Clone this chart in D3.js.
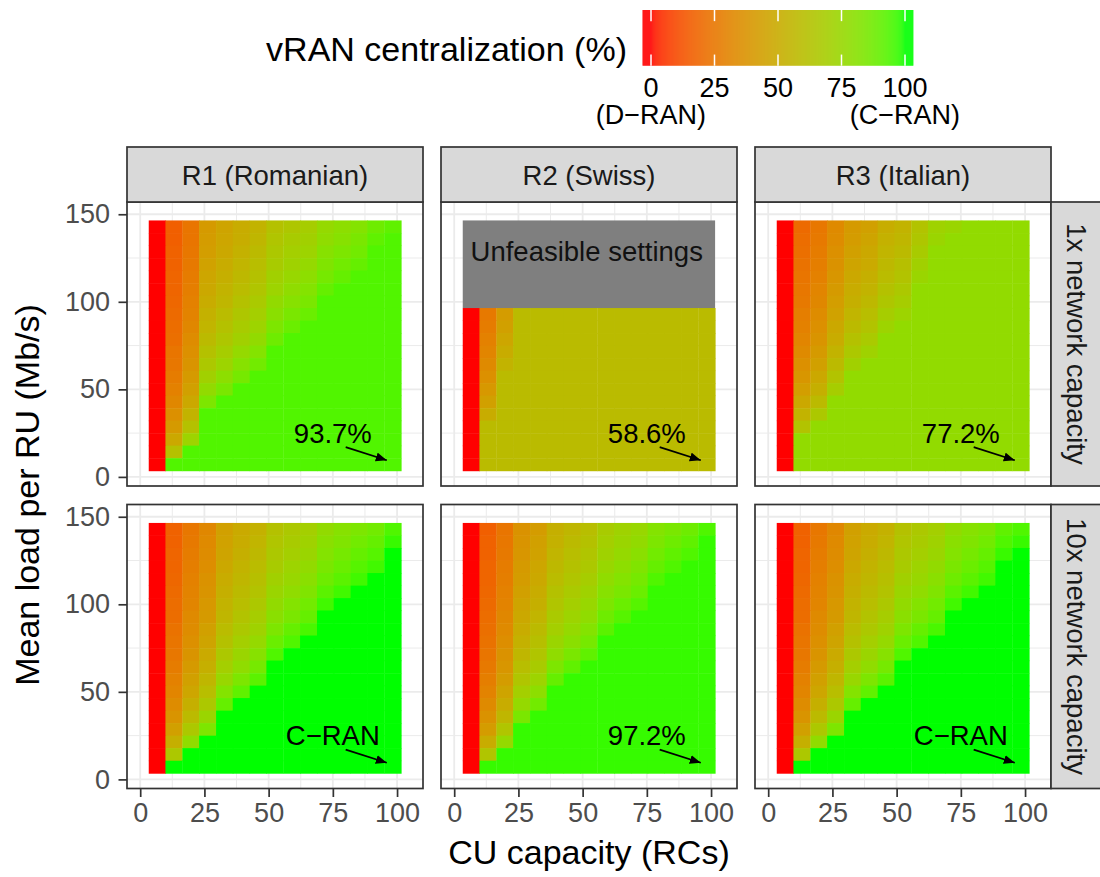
<!DOCTYPE html>
<html>
<head>
<meta charset="utf-8">
<script src="https://cdn.jsdelivr.net/npm/d3@7"></script>
<style>
  body { margin: 0; background: #fff; }
</style>
</head>
<body>
<div id="chart"></div>
<script>

// CU capacity (RCs) per tile column, mean load per RU (Mb/s) per tile row (top row first)
var cuCapacity = [6.6, 13.1, 19.7, 26.2, 32.8, 39.3, 45.9, 52.4, 59, 65.5, 72.1, 78.6, 85.2, 91.7, 98.3];
var meanLoad = [142.9, 135.7, 128.6, 121.4, 114.3, 107.1, 100, 92.9, 85.7, 78.6,
                71.4, 64.3, 57.1, 50, 42.9, 35.7, 28.6, 21.4, 14.3, 7.1];

var regions = ["R1 (Romanian)", "R2 (Swiss)", "R3 (Italian)"];
var capacities = ["1x network capacity", "10x network capacity"];
var panelNotes = [["93.7%", "58.6%", "77.2%"], ["C\u2212RAN", "97.2%", "C\u2212RAN"]];
var unfeasibleLabel = "Unfeasible settings";

var xTicks = [0, 25, 50, 75, 100];
var xMinor = [12.5, 37.5, 62.5, 87.5];
var yTicks = [0, 50, 100, 150];
var yMinor = [25, 75, 125];
var legendBreaks = [0, 25, 50, 75, 100];
var legendLabels = [["0", "(D\u2212RAN)"], ["25"], ["50"], ["75"], ["100", "(C\u2212RAN)"]];

// vRAN centralization (%), one row per mean load, one value per CU capacity; "" = unfeasible
var centralR1x1 = [
  "0 16 24 41 46 50 54 62 65 69 76 79 82 88 91",
  "0 16 24 42 47 51 56 64 68 71 78 81 85 91 93.7",
  "0 17 25 43 48 53 58 66 70 73 81 84 87 93.7 93.7",
  "0 17 26 45 50 55 60 68 72 76 83 87 90 93.7 93.7",
  "0 18 27 47 52 57 62 71 75 79 86 90 93.7 93.7 93.7",
  "0 18 28 48 54 59 64 73 78 82 90 93.7 93.7 93.7 93.7",
  "0 19 29 50 56 62 67 77 81 85 93.7 93.7 93.7 93.7 93.7",
  "0 20 30 53 59 65 70 80 85 89 93.7 93.7 93.7 93.7 93.7",
  "0 21 32 55 62 68 73 84 89 93.7 93.7 93.7 93.7 93.7 93.7",
  "0 22 34 58 65 71 77 88 93.7 93.7 93.7 93.7 93.7 93.7 93.7",
  "0 24 36 62 69 76 82 93.7 93.7 93.7 93.7 93.7 93.7 93.7 93.7",
  "0 25 38 66 73 81 87 93.7 93.7 93.7 93.7 93.7 93.7 93.7 93.7",
  "0 27 41 71 79 86 93.7 93.7 93.7 93.7 93.7 93.7 93.7 93.7 93.7",
  "0 29 44 77 85 93.7 93.7 93.7 93.7 93.7 93.7 93.7 93.7 93.7 93.7",
  "0 32 48 84 93.7 93.7 93.7 93.7 93.7 93.7 93.7 93.7 93.7 93.7 93.7",
  "0 36 54 93.7 93.7 93.7 93.7 93.7 93.7 93.7 93.7 93.7 93.7 93.7 93.7",
  "0 41 62 93.7 93.7 93.7 93.7 93.7 93.7 93.7 93.7 93.7 93.7 93.7 93.7",
  "0 48 73 93.7 93.7 93.7 93.7 93.7 93.7 93.7 93.7 93.7 93.7 93.7 93.7",
  "0 62 93.7 93.7 93.7 93.7 93.7 93.7 93.7 93.7 93.7 93.7 93.7 93.7 93.7",
  "0 93.7 93.7 93.7 93.7 93.7 93.7 93.7 93.7 93.7 93.7 93.7 93.7 93.7 93.7"
];

var centralR2x1 = [
  "", "", "", "", "", "", "",
  "0 26 42 58.6 58.6 58.6 58.6 58.6 58.6 58.6 58.6 58.6 58.6 58.6 58.6",
  "0 27 44 58.6 58.6 58.6 58.6 58.6 58.6 58.6 58.6 58.6 58.6 58.6 58.6",
  "0 29 47 58.6 58.6 58.6 58.6 58.6 58.6 58.6 58.6 58.6 58.6 58.6 58.6",
  "0 31 50 58.6 58.6 58.6 58.6 58.6 58.6 58.6 58.6 58.6 58.6 58.6 58.6",
  "0 33 54 58.6 58.6 58.6 58.6 58.6 58.6 58.6 58.6 58.6 58.6 58.6 58.6",
  "0 36 58.6 58.6 58.6 58.6 58.6 58.6 58.6 58.6 58.6 58.6 58.6 58.6 58.6",
  "0 40 58.6 58.6 58.6 58.6 58.6 58.6 58.6 58.6 58.6 58.6 58.6 58.6 58.6",
  "0 44 58.6 58.6 58.6 58.6 58.6 58.6 58.6 58.6 58.6 58.6 58.6 58.6 58.6",
  "0 50 58.6 58.6 58.6 58.6 58.6 58.6 58.6 58.6 58.6 58.6 58.6 58.6 58.6",
  "0 58.6 58.6 58.6 58.6 58.6 58.6 58.6 58.6 58.6 58.6 58.6 58.6 58.6 58.6",
  "0 58.6 58.6 58.6 58.6 58.6 58.6 58.6 58.6 58.6 58.6 58.6 58.6 58.6 58.6",
  "0 58.6 58.6 58.6 58.6 58.6 58.6 58.6 58.6 58.6 58.6 58.6 58.6 58.6 58.6",
  "0 58.6 58.6 58.6 58.6 58.6 58.6 58.6 58.6 58.6 58.6 58.6 58.6 58.6 58.6"
];

var centralR3x1 = [
  "0 20 25 33 41 44 51 54 63 72 74 77.2 77.2 77.2 77.2",
  "0 21 26 34 42 46 53 56 65 74 77.2 77.2 77.2 77.2 77.2",
  "0 22 27 36 44 48 55 58 68 77.2 77.2 77.2 77.2 77.2 77.2",
  "0 23 28 37 46 49 57 61 71 77.2 77.2 77.2 77.2 77.2 77.2",
  "0 24 29 39 48 52 59 63 74 77.2 77.2 77.2 77.2 77.2 77.2",
  "0 25 31 41 50 54 62 66 77.2 77.2 77.2 77.2 77.2 77.2 77.2",
  "0 26 32 43 52 57 65 69 77.2 77.2 77.2 77.2 77.2 77.2 77.2",
  "0 28 34 45 55 60 69 73 77.2 77.2 77.2 77.2 77.2 77.2 77.2",
  "0 29 36 48 58 63 73 77.2 77.2 77.2 77.2 77.2 77.2 77.2 77.2",
  "0 31 38 50 62 67 77.2 77.2 77.2 77.2 77.2 77.2 77.2 77.2 77.2",
  "0 33 41 54 66 72 77.2 77.2 77.2 77.2 77.2 77.2 77.2 77.2 77.2",
  "0 36 44 58 71 77.2 77.2 77.2 77.2 77.2 77.2 77.2 77.2 77.2 77.2",
  "0 39 48 63 77.2 77.2 77.2 77.2 77.2 77.2 77.2 77.2 77.2 77.2 77.2",
  "0 43 52 69 77.2 77.2 77.2 77.2 77.2 77.2 77.2 77.2 77.2 77.2 77.2",
  "0 48 58 77.2 77.2 77.2 77.2 77.2 77.2 77.2 77.2 77.2 77.2 77.2 77.2",
  "0 54 66 77.2 77.2 77.2 77.2 77.2 77.2 77.2 77.2 77.2 77.2 77.2 77.2",
  "0 63 77.2 77.2 77.2 77.2 77.2 77.2 77.2 77.2 77.2 77.2 77.2 77.2 77.2",
  "0 77.2 77.2 77.2 77.2 77.2 77.2 77.2 77.2 77.2 77.2 77.2 77.2 77.2 77.2",
  "0 77.2 77.2 77.2 77.2 77.2 77.2 77.2 77.2 77.2 77.2 77.2 77.2 77.2 77.2",
  "0 77.2 77.2 77.2 77.2 77.2 77.2 77.2 77.2 77.2 77.2 77.2 77.2 77.2 77.2"
];

var centralR1x10 = [
  "0 17 25 32 44 49 53 62 66 70 77 81 84 87 94",
  "0 17 26 33 45 50 55 64 68 72 80 83 87 90 97",
  "0 18 27 34 46 52 57 66 70 74 82 86 90 93 100",
  "0 18 28 35 48 54 59 68 73 77 85 89 93 96 100",
  "0 19 29 37 50 56 61 71 75 80 88 92 96 100 100",
  "0 20 30 38 52 58 63 74 78 83 92 96 100 100 100",
  "0 21 31 40 54 60 66 77 82 87 96 100 100 100 100",
  "0 21 33 41 56 63 69 80 85 90 100 100 100 100 100",
  "0 23 34 44 59 66 72 84 90 95 100 100 100 100 100",
  "0 24 36 46 62 70 76 89 94 100 100 100 100 100 100",
  "0 25 38 49 66 74 81 94 100 100 100 100 100 100 100",
  "0 27 41 52 70 78 86 100 100 100 100 100 100 100 100",
  "0 29 44 56 75 84 92 100 100 100 100 100 100 100 100",
  "0 31 47 60 82 91 100 100 100 100 100 100 100 100 100",
  "0 34 52 66 90 100 100 100 100 100 100 100 100 100 100",
  "0 38 58 74 100 100 100 100 100 100 100 100 100 100 100",
  "0 44 66 84 100 100 100 100 100 100 100 100 100 100 100",
  "0 52 78 100 100 100 100 100 100 100 100 100 100 100 100",
  "0 66 100 100 100 100 100 100 100 100 100 100 100 100 100",
  "0 100 100 100 100 100 100 100 100 100 100 100 100 100 100"
];

var centralR2x10 = [
  "0 16 24 37 42 52 56 60 68 72 75 82 85 88 94",
  "0 17 25 38 44 53 58 62 70 74 77 84 88 91 97.2",
  "0 17 26 39 45 55 60 64 72 76 80 87 91 94 97.2",
  "0 18 27 41 47 57 62 66 75 79 83 90 94 97.2 97.2",
  "0 18 28 42 48 59 64 69 78 82 86 94 97.2 97.2 97.2",
  "0 19 29 44 50 62 67 72 81 85 89 97.2 97.2 97.2 97.2",
  "0 20 30 46 52 64 70 75 84 89 93 97.2 97.2 97.2 97.2",
  "0 21 32 48 55 67 73 78 88 93 97.2 97.2 97.2 97.2 97.2",
  "0 22 33 50 58 70 76 82 92 97.2 97.2 97.2 97.2 97.2 97.2",
  "0 23 35 53 61 74 80 86 97.2 97.2 97.2 97.2 97.2 97.2 97.2",
  "0 24 37 56 64 78 85 91 97.2 97.2 97.2 97.2 97.2 97.2 97.2",
  "0 26 39 60 68 84 91 97.2 97.2 97.2 97.2 97.2 97.2 97.2 97.2",
  "0 28 42 64 73 90 97.2 97.2 97.2 97.2 97.2 97.2 97.2 97.2 97.2",
  "0 30 46 70 79 97.2 97.2 97.2 97.2 97.2 97.2 97.2 97.2 97.2 97.2",
  "0 33 50 76 87 97.2 97.2 97.2 97.2 97.2 97.2 97.2 97.2 97.2 97.2",
  "0 37 56 85 97.2 97.2 97.2 97.2 97.2 97.2 97.2 97.2 97.2 97.2 97.2",
  "0 42 64 97.2 97.2 97.2 97.2 97.2 97.2 97.2 97.2 97.2 97.2 97.2 97.2",
  "0 50 76 97.2 97.2 97.2 97.2 97.2 97.2 97.2 97.2 97.2 97.2 97.2 97.2",
  "0 64 97.2 97.2 97.2 97.2 97.2 97.2 97.2 97.2 97.2 97.2 97.2 97.2 97.2",
  "0 97.2 97.2 97.2 97.2 97.2 97.2 97.2 97.2 97.2 97.2 97.2 97.2 97.2 97.2"
];

var centralR3x10 = [
  "0 17 25 32 44 49 53 62 66 70 77 81 84 91 94",
  "0 17 26 33 45 50 55 64 68 72 80 83 87 94 97",
  "0 18 27 34 46 52 57 66 70 74 82 86 90 97 100",
  "0 18 28 35 48 54 59 68 73 77 85 89 93 100 100",
  "0 19 29 37 50 56 61 71 75 80 88 92 96 100 100",
  "0 20 30 38 52 58 63 74 78 83 92 96 100 100 100",
  "0 21 31 40 54 60 66 77 82 87 96 100 100 100 100",
  "0 21 33 41 56 63 69 80 85 90 100 100 100 100 100",
  "0 23 34 44 59 66 72 84 90 95 100 100 100 100 100",
  "0 24 36 46 62 70 76 89 94 100 100 100 100 100 100",
  "0 25 38 49 66 74 81 94 100 100 100 100 100 100 100",
  "0 27 41 52 70 78 86 100 100 100 100 100 100 100 100",
  "0 29 44 56 75 84 92 100 100 100 100 100 100 100 100",
  "0 31 47 60 82 91 100 100 100 100 100 100 100 100 100",
  "0 34 52 66 90 100 100 100 100 100 100 100 100 100 100",
  "0 38 58 74 100 100 100 100 100 100 100 100 100 100 100",
  "0 44 66 84 100 100 100 100 100 100 100 100 100 100 100",
  "0 52 78 100 100 100 100 100 100 100 100 100 100 100 100",
  "0 66 100 100 100 100 100 100 100 100 100 100 100 100 100",
  "0 100 100 100 100 100 100 100 100 100 100 100 100 100 100"
];

function parseRows(rows) {
  return rows.map(function(r) { return r ? r.split(" ").map(Number) : null; });
}
var grids = [
  [centralR1x1, centralR2x1, centralR3x1],
  [centralR1x10, centralR2x10, centralR3x10]
].map(function(row) { return row.map(parseRows); });

var font = '"Liberation Sans", Helvetica, Arial, sans-serif';
var svg = d3.select("#chart").append("svg")
  .attr("width", 1100).attr("height", 877)
  .style("font-family", font);

var color = d3.scaleLinear().domain([0, 100]).range(["#ff0000", "#00ff00"])
  .interpolate(d3.interpolateLab).clamp(true);

var panelLeft = [127, 441, 755];
var panelTop = [202, 504.5];
var panelW = 296, panelH = 284, stripH = 55;
var x = d3.scaleLinear().domain([-5.14, 110.1]).range([0, panelW]);
var y = d3.scaleLinear().domain([-5.2, 157]).range([panelH, 0]);
var tileW = 6.55, tileH = 7.14;

svg.append("defs").append("marker")
  .attr("id", "head")
  .attr("markerUnits", "userSpaceOnUse")
  .attr("markerWidth", 12).attr("markerHeight", 10)
  .attr("refX", 11).attr("refY", 4.5)
  .attr("orient", "auto")
  .append("path").attr("d", "M0,0L11,4.5L0,9Z").attr("fill", "#000");

function styleAxis(a) {
  a.attr("font-family", null).attr("font-size", null);
  a.select(".domain").remove();
  a.selectAll(".tick line").attr("stroke", "#333").attr("stroke-width", 1.7);
  a.selectAll(".tick text").attr("fill", "#4d4d4d").attr("font-size", 27);
}

function drawPanel(ri, ci) {
  var rows = grids[ri][ci];
  var g = svg.append("g")
    .attr("transform", "translate(" + panelLeft[ci] + "," + panelTop[ri] + ")");

  g.append("rect").attr("width", panelW).attr("height", panelH).attr("fill", "#fff");

  // grid
  g.selectAll(".vminor").data(xMinor).enter().append("line")
    .attr("x1", x).attr("x2", x).attr("y1", 0).attr("y2", panelH)
    .attr("stroke", "#ebebeb").attr("stroke-width", 1);
  g.selectAll(".hminor").data(yMinor).enter().append("line")
    .attr("y1", y).attr("y2", y).attr("x1", 0).attr("x2", panelW)
    .attr("stroke", "#ebebeb").attr("stroke-width", 1);
  g.selectAll(".vmajor").data(xTicks).enter().append("line")
    .attr("x1", x).attr("x2", x).attr("y1", 0).attr("y2", panelH)
    .attr("stroke", "#ebebeb").attr("stroke-width", 1.8);
  g.selectAll(".hmajor").data(yTicks).enter().append("line")
    .attr("y1", y).attr("y2", y).attr("x1", 0).attr("x2", panelW)
    .attr("stroke", "#ebebeb").attr("stroke-width", 1.8);

  // tiles
  var cells = [];
  meanLoad.forEach(function(load, i) {
    if (!rows[i]) return;
    rows[i].forEach(function(v, j) {
      cells.push({cap: cuCapacity[j], load: load, v: v});
    });
  });
  g.append("g").selectAll("rect").data(cells).enter().append("rect")
    .attr("x", function(d) { return x(d.cap - tileW / 2); })
    .attr("y", function(d) { return y(d.load + tileH / 2); })
    .attr("width", function(d) { return x(d.cap + tileW / 2) - x(d.cap - tileW / 2) + 0.5; })
    .attr("height", function(d) { return y(d.load - tileH / 2) - y(d.load + tileH / 2) + 0.5; })
    .attr("fill", function(d) { return color(d.v); });

  // unfeasible block
  var missing = meanLoad.filter(function(l, i) { return !rows[i]; });
  if (missing.length) {
    var top = d3.max(missing) + tileH / 2, bottom = d3.min(missing) - tileH / 2;
    var left = cuCapacity[0] - tileW / 2, right = cuCapacity[cuCapacity.length - 1] + tileW / 2;
    g.append("rect")
      .attr("x", x(left)).attr("y", y(top))
      .attr("width", x(right) - x(left)).attr("height", y(bottom) - y(top))
      .attr("fill", "#7f7f7f");
    g.append("text")
      .attr("x", x(51.6)).attr("y", y(129) + 9.8)
      .attr("text-anchor", "middle").attr("font-size", 27.5).attr("fill", "#111")
      .text(unfeasibleLabel);
  }

  // note + arrow
  g.append("line")
    .attr("x1", x(80)).attr("y1", y(17))
    .attr("x2", x(96)).attr("y2", y(9.5))
    .attr("stroke", "#000").attr("stroke-width", 1.7)
    .attr("marker-end", "url(#head)");
  g.append("text")
    .attr("x", x(75)).attr("y", y(25) + 9.8)
    .attr("text-anchor", "middle").attr("font-size", 27.5).attr("fill", "#000")
    .text(panelNotes[ri][ci]);

  g.append("rect").attr("width", panelW).attr("height", panelH)
    .attr("fill", "none").attr("stroke", "#333").attr("stroke-width", 1.7);

  // strips
  if (ri === 0) {
    g.append("rect").attr("y", -stripH).attr("width", panelW).attr("height", stripH)
      .attr("fill", "#d9d9d9").attr("stroke", "#333").attr("stroke-width", 1.7);
    g.append("text").attr("x", panelW / 2).attr("y", -stripH / 2 + 10)
      .attr("text-anchor", "middle").attr("font-size", 27.5).attr("fill", "#1a1a1a")
      .text(regions[ci]);
  }
  if (ci === 2) {
    g.append("rect").attr("x", panelW).attr("width", stripH).attr("height", panelH)
      .attr("fill", "#d9d9d9").attr("stroke", "#333").attr("stroke-width", 1.7);
    g.append("text")
      .attr("transform", "translate(" + (panelW + 16) + "," + (panelH / 2) + ") rotate(90)")
      .attr("text-anchor", "middle").attr("font-size", 27.5).attr("fill", "#1a1a1a")
      .text(capacities[ri]);
  }

  // axes
  if (ci === 0) {
    styleAxis(g.append("g").call(d3.axisLeft(y).tickValues(yTicks).tickSize(8.5).tickPadding(8.5)));
  }
  if (ri === 1) {
    styleAxis(g.append("g").attr("transform", "translate(0," + panelH + ")")
      .call(d3.axisBottom(x).tickValues(xTicks).tickSize(8.5).tickPadding(5.5)));
  }
}

[0, 1].forEach(function(ri) {
  [0, 1, 2].forEach(function(ci) { drawPanel(ri, ci); });
});

// axis titles
svg.append("text")
  .attr("transform", "translate(39,495) rotate(-90)")
  .attr("text-anchor", "middle").attr("font-size", 34).attr("fill", "#000")
  .text("Mean load per RU (Mb/s)");
svg.append("text")
  .attr("x", 589).attr("y", 864)
  .attr("text-anchor", "middle").attr("font-size", 34).attr("fill", "#000")
  .text("CU capacity (RCs)");

// legend
var lx = d3.scaleLinear().domain([0, 100]).range([651, 905]);
var barTop = 10, barH = 55.7;
var legend = svg.append("g");
legend.append("text")
  .attr("x", 627).attr("y", 61)
  .attr("text-anchor", "end").attr("font-size", 34).attr("fill", "#000")
  .text("vRAN centralization (%)");
legend.selectAll(".bin").data(d3.range(642.5, 913.4, 1)).enter().append("rect")
  .attr("x", function(d) { return d; }).attr("y", barTop)
  .attr("width", function(d) { return Math.min(1.3, 913.4 - d); }).attr("height", barH)
  .attr("fill", function(d) { return color(lx.invert(d + 0.5)); });
legendBreaks.forEach(function(b) {
  legend.append("line").attr("x1", lx(b)).attr("x2", lx(b))
    .attr("y1", barTop).attr("y2", barTop + barH / 5)
    .attr("stroke", "#fff").attr("stroke-width", 1.5);
  legend.append("line").attr("x1", lx(b)).attr("x2", lx(b))
    .attr("y1", barTop + barH * 4 / 5).attr("y2", barTop + barH)
    .attr("stroke", "#fff").attr("stroke-width", 1.5);
});
legend.selectAll(".lab").data(legendBreaks).enter().append("text")
  .attr("text-anchor", "middle").attr("font-size", 27).attr("fill", "#000")
  .each(function(b, i) {
    var t = d3.select(this);
    legendLabels[i].forEach(function(line, k) {
      t.append("tspan").attr("x", lx(b)).attr("y", 96.5 + k * 27.5).text(line);
    });
  });

</script>
</body>
</html>
